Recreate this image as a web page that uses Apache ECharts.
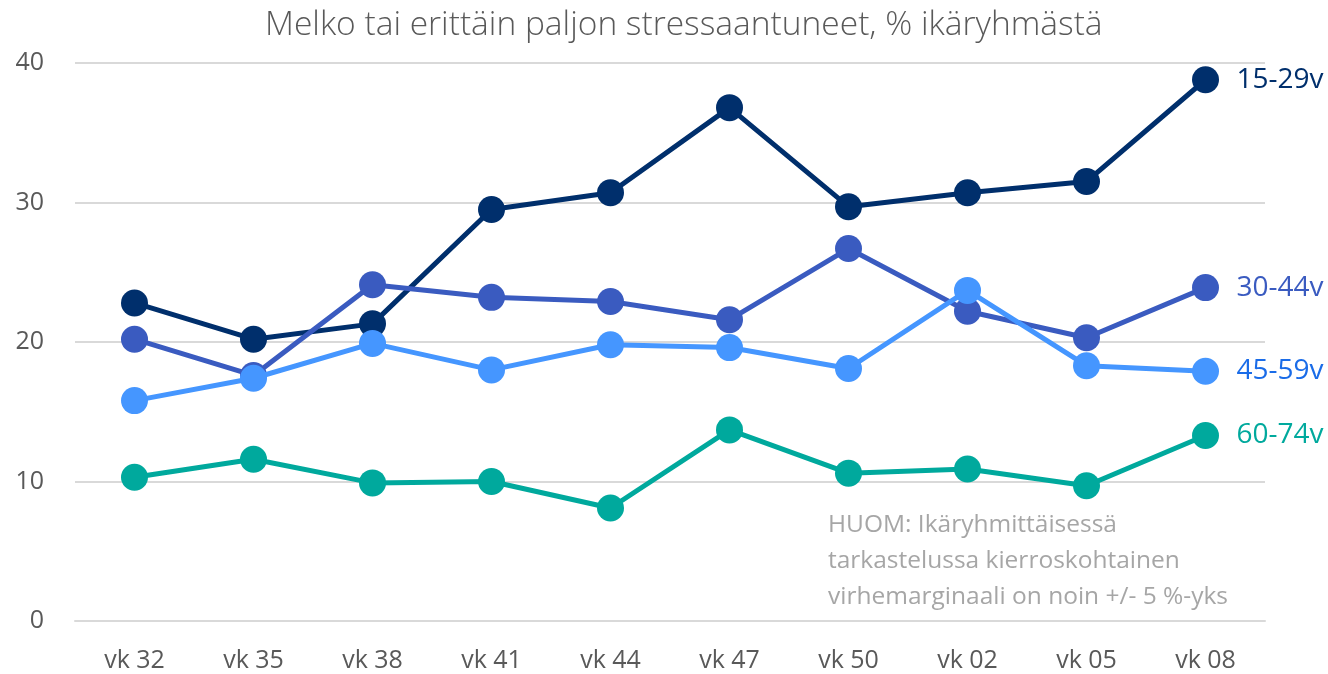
<!DOCTYPE html>
<html>
<head>
<meta charset="utf-8">
<script src="https://cdn.jsdelivr.net/npm/echarts@6/dist/echarts.min.js"></script>
<style>html,body{margin:0;padding:0;background:#fff;}#c{width:1328px;height:674px;}</style>
</head>
<body>
<div id="c"></div>
<script>
const categories = ['vk 32','vk 35','vk 38','vk 41','vk 44','vk 47','vk 50','vk 02','vk 05','vk 08'];
const s15_29 = [22.8, 20.2, 21.3, 29.5, 30.7, 36.8, 29.7, 30.7, 31.5, 38.8];
const s30_44 = [20.2, 17.6, 24.1, 23.2, 22.9, 21.6, 26.7, 22.2, 20.3, 23.9];
const s45_59 = [15.8, 17.4, 19.9, 18.0, 19.8, 19.6, 18.1, 23.7, 18.3, 17.9];
const s60_74 = [10.3, 11.6, 9.9, 10.0, 8.1, 13.7, 10.6, 10.9, 9.7, 13.3];
const seriesNames = ['15-29v','30-44v','45-59v','60-74v'];
const yTicks = [0, 10, 20, 30, 40];
const titleText = 'Melko tai erittäin paljon stressaantuneet, % ikäryhmästä';
const noteLines = ['HUOM: Ikäryhmittäisessä', 'tarkastelussa kierroskohtainen', 'virhemarginaali on noin +/- 5 %-yks'];

const FONT = '"Open Sans", "Noto Sans", sans-serif';
const lineColors = ['#002f6c', '#3a5bc0', '#4596ff', '#00a99d'];
const labelColors = ['#002f6c', '#3a5bc0', '#1a6ce8', '#00a99d'];
const allData = [s15_29, s30_44, s45_59, s60_74];

const chart = echarts.init(document.getElementById('c'));
chart.setOption({
  animation: false,
  backgroundColor: '#ffffff',
  title: {
    text: titleText, left: 260, top: 3,
    textStyle: { fontFamily: FONT, fontWeight: 300, fontSize: 33.5, color: '#595959' }
  },
  grid: { left: 75, right: 63, top: 63, bottom: 53, containLabel: false },
  xAxis: {
    type: 'category', data: categories, boundaryGap: true,
    axisLine: { show: true, lineStyle: { color: '#d9d9d9', width: 2 } },
    axisTick: { show: false },
    axisLabel: { fontFamily: FONT, fontSize: 25, color: '#595959', margin: 27 }
  },
  yAxis: {
    type: 'value', min: yTicks[0], max: yTicks[yTicks.length - 1], interval: 10,
    axisLine: { show: false }, axisTick: { show: false },
    splitLine: { lineStyle: { color: '#d9d9d9', width: 2 } },
    axisLabel: { fontFamily: FONT, fontSize: 25, color: '#595959', margin: 31 }
  },
  graphic: [{
    type: 'text', left: 828, top: 507,
    style: { text: noteLines.join('\n'), fontFamily: FONT, fontSize: 24.5, lineHeight: 36, fill: '#a6a6a6' }
  }],
  series: allData.map((d, i) => ({
    name: seriesNames[i], type: 'line', data: d,
    symbol: 'circle', symbolSize: 27, z: 2 + i,
    lineStyle: { color: lineColors[i], width: 5 },
    itemStyle: { color: lineColors[i] },
    endLabel: {
      show: true, formatter: '{a}', distance: 31,
      fontFamily: FONT, fontSize: 28, color: labelColors[i]
    }
  }))
});
</script>
</body>
</html>
